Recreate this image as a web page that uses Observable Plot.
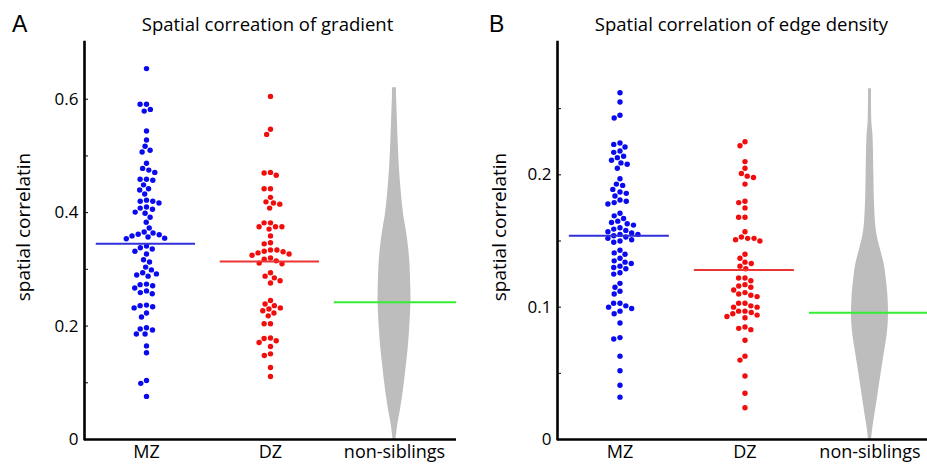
<!DOCTYPE html>
<html>
<head>
<meta charset="utf-8">
<script src="https://cdn.jsdelivr.net/npm/d3@7"></script>
<script src="https://cdn.jsdelivr.net/npm/@observablehq/plot@0.6"></script>
<style>
  html, body { margin: 0; padding: 0; background: #fff; }
  #root { position: relative; width: 927px; height: 465px; overflow: hidden; font-family: "Open Sans", sans-serif; color: #000; }
  .panel { position: absolute; top: 0; height: 465px; }
  .letter { position: absolute; font-family: "Liberation Sans", Arial, sans-serif; font-size: 23px; line-height: 1; top: 13px; }
  .title { position: absolute; top: 15px; font-size: 18.5px; line-height: 1; white-space: nowrap; transform: translateX(-50%); }
  .chart { position: absolute; top: 35px; left: 0; }
</style>
</head>
<body>
<div id="root"></div>
<script>
const categories = ["MZ", "DZ", "non-siblings"];
const yLabelText = "spatial correlatin";

// ---------- Panel A : gradient ----------
const titleA = "Spatial correation of gradient";
const mzA = [0.654, 0.591, 0.591, 0.582, 0.579, 0.544, 0.528, 0.517, 0.510, 0.507, 0.487, 0.478, 0.475, 0.471,
  0.459, 0.459, 0.457, 0.449, 0.442, 0.440, 0.433, 0.422, 0.420, 0.420, 0.417, 0.410, 0.408, 0.406, 0.401, 0.399,
  0.392, 0.383, 0.373, 0.366, 0.364, 0.362, 0.361, 0.359, 0.357, 0.355, 0.354, 0.341, 0.338, 0.336, 0.332, 0.327,
  0.317, 0.313, 0.304, 0.299, 0.294, 0.292, 0.290, 0.288, 0.274, 0.273, 0.271, 0.267, 0.262, 0.259, 0.257, 0.237,
  0.236, 0.234, 0.232, 0.223, 0.216, 0.197, 0.195, 0.193, 0.186, 0.186, 0.165, 0.153, 0.104, 0.099, 0.076];
const dzA = [0.605, 0.547, 0.538, 0.471, 0.470, 0.466, 0.442, 0.442, 0.427, 0.419, 0.417, 0.415, 0.408, 0.382, 0.382,
  0.375, 0.375, 0.375, 0.371, 0.359, 0.347, 0.345, 0.334, 0.334, 0.332, 0.331, 0.329, 0.327, 0.325, 0.320, 0.318,
  0.315, 0.311, 0.310, 0.294, 0.288, 0.285, 0.280, 0.276, 0.245, 0.239, 0.236, 0.232, 0.230, 0.227, 0.223, 0.218,
  0.204, 0.204, 0.179, 0.178, 0.174, 0.171, 0.164, 0.151, 0.148, 0.127, 0.111];
const meansA = [0.345, 0.314, 0.242];
const nsValueA = [0, 0.01, 0.028, 0.05, 0.074, 0.1, 0.133, 0.16, 0.19, 0.243, 0.28, 0.31, 0.34, 0.368, 0.4, 0.44, 0.478, 0.52, 0.56, 0.585, 0.6, 0.62];
const nsDensityA = [0.08, 0.13, 0.21, 0.35, 0.48, 0.6, 0.73, 0.83, 0.91, 1.0, 0.98, 0.94, 0.85, 0.72, 0.54, 0.4, 0.3, 0.23, 0.18, 0.15, 0.13, 0.12];
const yTicksA = [0, 0.1, 0.2, 0.3, 0.4, 0.5, 0.6];
const yLabelsA = [0, 0.2, 0.4, 0.6];

// ---------- Panel B : edge density ----------
const titleB = "Spatial correlation of edge density";
const mzB = [0.262, 0.255, 0.245, 0.243, 0.224, 0.223, 0.221, 0.218, 0.217, 0.214, 0.213, 0.211, 0.209, 0.208, 0.205,
  0.197, 0.193, 0.192, 0.189, 0.187, 0.186, 0.184, 0.181, 0.180, 0.179, 0.178, 0.171, 0.169, 0.167, 0.165, 0.164,
  0.163, 0.162, 0.160, 0.159, 0.158, 0.157, 0.156, 0.155, 0.155, 0.154, 0.153, 0.152, 0.151, 0.150, 0.149, 0.143,
  0.141, 0.140, 0.137, 0.135, 0.134, 0.133, 0.131, 0.130, 0.129, 0.126, 0.125, 0.118, 0.115, 0.112, 0.110, 0.103,
  0.103, 0.101, 0.100, 0.099, 0.097, 0.095, 0.088, 0.077, 0.076, 0.063, 0.052, 0.041, 0.032];
const dzB = [0.225, 0.222, 0.210, 0.205, 0.201, 0.199, 0.198, 0.193, 0.180, 0.179, 0.175, 0.168, 0.168, 0.157, 0.153,
  0.152, 0.152, 0.151, 0.150, 0.140, 0.137, 0.134, 0.133, 0.131, 0.129, 0.122, 0.122, 0.120, 0.117, 0.116, 0.115,
  0.113, 0.111, 0.110, 0.109, 0.108, 0.103, 0.103, 0.101, 0.100, 0.100, 0.097, 0.097, 0.096, 0.095, 0.094, 0.093,
  0.092, 0.085, 0.084, 0.083, 0.075, 0.063, 0.060, 0.048, 0.035, 0.024];
const meansB = [0.154, 0.128, 0.0958];
const nsValueB = [0, 0.005, 0.012, 0.032, 0.057, 0.082, 0.096, 0.11, 0.12, 0.133, 0.145, 0.158, 0.18, 0.2, 0.23, 0.24, 0.265];
const nsDensityB = [0.08, 0.12, 0.19, 0.41, 0.68, 0.95, 1.0, 0.96, 0.89, 0.76, 0.54, 0.34, 0.24, 0.21, 0.16, 0.1, 0.08];
const yTicksB = [0, 0.05, 0.1, 0.15, 0.2, 0.25];
const yLabelsB = [0, 0.1, 0.2];

const colors = {MZdot: "#0a0af0", DZdot: "#f20d0d", MZline: "#3030d8", DZline: "#ec3434", NSline: "#33ee33", NS: "#bdbdbd"};

function panel(cfg) {
  const mzRows = cfg.mz.map(v => ({cat: "MZ", v}));
  const dzRows = cfg.dz.map(v => ({cat: "DZ", v}));
  const violin = cfg.nsValue.map((v, i) => ({cat: "non-siblings", v, d: cfg.nsDensity[i]}));
  const meanRows = categories.map((c, i) => ({cat: c, v: cfg.means[i]}));
  const hw = cfg.halfWidth;
  return Plot.plot({
    width: cfg.width, height: 430,
    marginLeft: cfg.marginLeft, marginRight: cfg.marginRight, marginTop: 7, marginBottom: 26,
    style: {fontFamily: "'Open Sans', sans-serif", fontSize: "16px", background: "white", color: "black", overflow: "visible"},
    fx: {domain: categories, padding: 0},
    x: {domain: [-1, 1], axis: null},
    y: {domain: cfg.yDomain},
    marks: [
      Plot.areaX(violin, {fx: "cat", y: "v", x1: d => -d.d * hw, x2: d => d.d * hw, fill: colors.NS, curve: "catmull-rom"}),
      Plot.dot(mzRows, Plot.dodgeX("middle", {fx: "cat", y: "v", r: 2.7, fill: colors.MZdot, padding: 0.8})),
      Plot.dot(dzRows, Plot.dodgeX("middle", {fx: "cat", y: "v", r: 2.7, fill: colors.DZdot, padding: 0.8})),
      Plot.ruleY(meanRows.filter(d => d.cat === "MZ"), {fx: "cat", y: "v", x1: -0.81, x2: 0.79, stroke: colors.MZline, strokeWidth: 2}),
      Plot.ruleY(meanRows.filter(d => d.cat === "DZ"), {fx: "cat", y: "v", x1: -0.81, x2: 0.79, stroke: colors.DZline, strokeWidth: 2}),
      Plot.ruleY(meanRows.filter(d => d.cat === "non-siblings"), {fx: "cat", y: "v", x1: -0.97, x2: 1, stroke: colors.NSline, strokeWidth: 2}),
      Plot.ruleY([0], {stroke: "black", strokeWidth: 2.6}),
      Plot.ruleX([-1], {fx: () => "MZ", stroke: "black", strokeWidth: 2.6, strokeLinecap: "square"}),
      Plot.axisY({ticks: cfg.yTicks, tickSize: -4, tickPadding: 10, label: null, fontSize: 17,
        tickFormat: d => cfg.yLabels.includes(d) ? String(d) : ""}),
      Plot.axisFx({anchor: "bottom", tickSize: 0, tickPadding: 6, label: null, fontSize: 18}),
      Plot.text([yLabelText], {fx: () => "MZ", text: d => d, frameAnchor: "left", textAnchor: "middle", lineAnchor: "middle",
        rotate: -90, dx: cfg.labelDx, dy: -14, fontSize: 19})
    ]
  });
}

function build(left, width, letter, letterLeft, title, titleCenter, cfg) {
  const p = document.createElement("div");
  p.className = "panel";
  p.style.left = left + "px";
  p.style.width = width + "px";
  const l = document.createElement("div");
  l.className = "letter"; l.textContent = letter; l.style.left = letterLeft + "px";
  const t = document.createElement("div");
  t.className = "title"; t.textContent = title; t.style.left = titleCenter + "px";
  const c = document.createElement("div");
  c.className = "chart";
  c.appendChild(panel(cfg));
  p.appendChild(c); p.appendChild(l); p.appendChild(t);
  document.getElementById("root").appendChild(p);
}

build(0, 465, "A", 12, titleA, 267.5, {
  mz: mzA, dz: dzA, means: meansA, nsValue: nsValueA, nsDensity: nsDensityA,
  yDomain: [0, 0.7], yTicks: yTicksA, yLabels: yLabelsA,
  width: 465, marginLeft: 83, marginRight: 8, halfWidth: 0.265, labelDx: -61
});
build(466, 466, "B", 23, titleB, 275.5, {
  mz: mzB, dz: dzB, means: meansB, nsValue: nsValueB, nsDensity: nsDensityB,
  yDomain: [0, 0.3], yTicks: yTicksB, yLabels: yLabelsB,
  width: 466, marginLeft: 91, marginRight: 0, halfWidth: 0.296, labelDx: -58
});
</script>
</body>
</html>
